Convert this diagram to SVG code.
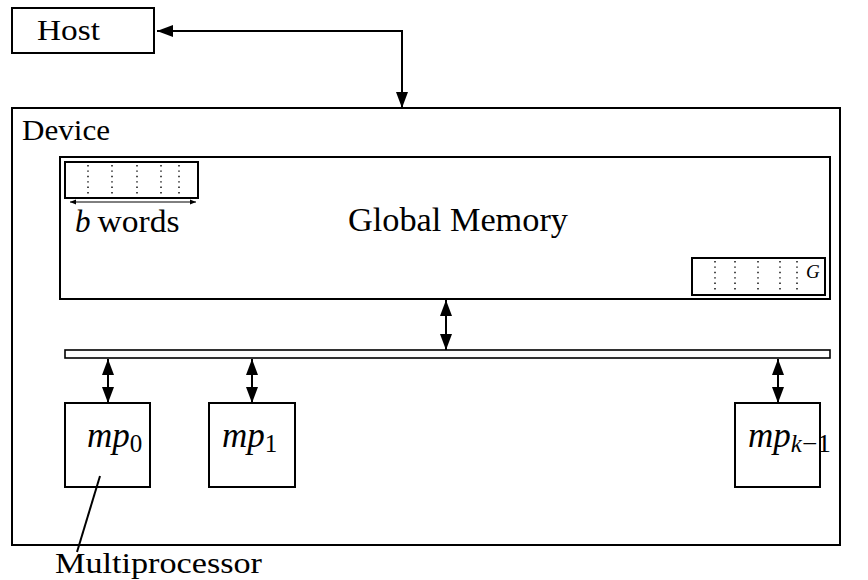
<svg xmlns="http://www.w3.org/2000/svg" width="868" height="580" viewBox="0 0 868 580">
  <style>
    .box { fill: #ffffff; stroke: #000000; stroke-width: 2; }
    .thin { fill: #ffffff; stroke: #000000; stroke-width: 1.6; }
    .dots { stroke: #000000; stroke-width: 1.4; stroke-dasharray: 1.4 4; fill: none; }
    .wire { stroke: #000000; stroke-width: 2; fill: none; }
    .txt { font-family: "Liberation Serif", "DejaVu Serif", serif; fill: #000000; }
    .math { font-family: "Liberation Serif", "DejaVu Serif", serif; font-style: italic; fill: #000000; }
  </style>
  <defs>
    <marker id="head" viewBox="0 0 16 12" refX="16" refY="6" markerWidth="16" markerHeight="12" markerUnits="userSpaceOnUse" orient="auto-start-reverse">
      <path d="M0,0 L16,6 L0,12 z" fill="#000000"/>
    </marker>
    <marker id="tick" viewBox="0 0 6 6" refX="6" refY="3" markerWidth="6" markerHeight="6" markerUnits="userSpaceOnUse" orient="auto-start-reverse">
      <path d="M0,0.5 L6,3 L0,5.5 z" fill="#000000"/>
    </marker>
  </defs>

  <g id="host">
    <rect class="box" x="12" y="8" width="142" height="45"/>
    <text class="txt" x="37" y="40" font-size="29" textLength="63" lengthAdjust="spacingAndGlyphs">Host</text>
  </g>

  <g id="device">
    <rect class="box" x="12" y="108" width="828" height="437"/>
    <text class="txt" x="22" y="140" font-size="29" textLength="88" lengthAdjust="spacingAndGlyphs">Device</text>
  </g>

  <g id="global-memory">
    <rect class="box" x="60" y="157" width="770" height="142"/>
    <text class="txt" x="348" y="231" font-size="33" textLength="220" lengthAdjust="spacingAndGlyphs">Global Memory</text>
    <!-- block of b words -->
    <rect class="box" x="65" y="162" width="133" height="36"/>
    <path class="dots" d="M88,165 V196 M112,165 V196 M137,165 V196 M161,165 V196 M179,165 V196"/>
    <line x1="70" y1="202" x2="196" y2="202" stroke="#000" stroke-width="1" marker-start="url(#tick)" marker-end="url(#tick)"/>
    <text x="75" y="232" font-size="31"><tspan class="math">b</tspan><tspan class="txt" dx="7" textLength="82" lengthAdjust="spacingAndGlyphs">words</tspan></text>
    <!-- block G -->
    <rect class="box" x="692" y="258" width="133" height="37"/>
    <path class="dots" d="M715,261 V293 M735,261 V293 M758,261 V293 M780,261 V293 M797,261 V293"/>
    <text class="math" x="806" y="278" font-size="19">G</text>
  </g>

  <g id="bus">
    <rect class="thin" x="65" y="350" width="765" height="8"/>
  </g>

  <g id="mp0">
    <rect class="box" x="65" y="403" width="85" height="84"/>
    <text x="87" y="447" font-size="35"><tspan class="math">mp</tspan><tspan class="txt" font-size="25" dy="5">0</tspan></text>
  </g>

  <g id="mp1">
    <rect class="box" x="209" y="403" width="86" height="84"/>
    <text x="222" y="447" font-size="35"><tspan class="math">mp</tspan><tspan class="txt" font-size="25" dy="5">1</tspan></text>
  </g>

  <g id="mpk1">
    <rect class="box" x="735" y="403" width="85" height="84"/>
    <text x="748" y="447" font-size="35"><tspan class="math">mp</tspan><tspan class="math" font-size="25" dy="5">k</tspan><tspan class="txt" font-size="25" textLength="29" lengthAdjust="spacingAndGlyphs">−1</tspan></text>
  </g>

  <g id="multiprocessor-label">
    <text class="txt" x="55" y="573" font-size="30" textLength="207" lengthAdjust="spacingAndGlyphs">Multiprocessor</text>
  </g>

  <g id="connectors">
    <polyline class="wire" points="157,31 402,31 402,108" marker-start="url(#head)" marker-end="url(#head)"/>
    <line class="wire" x1="446" y1="300" x2="446" y2="350" marker-start="url(#head)" marker-end="url(#head)"/>
    <line class="wire" x1="108" y1="359" x2="108" y2="403" marker-start="url(#head)" marker-end="url(#head)"/>
    <line class="wire" x1="252" y1="359" x2="252" y2="403" marker-start="url(#head)" marker-end="url(#head)"/>
    <line class="wire" x1="778" y1="359" x2="778" y2="403" marker-start="url(#head)" marker-end="url(#head)"/>
    <line class="wire" x1="100" y1="476" x2="77" y2="552"/>
  </g>
</svg>
